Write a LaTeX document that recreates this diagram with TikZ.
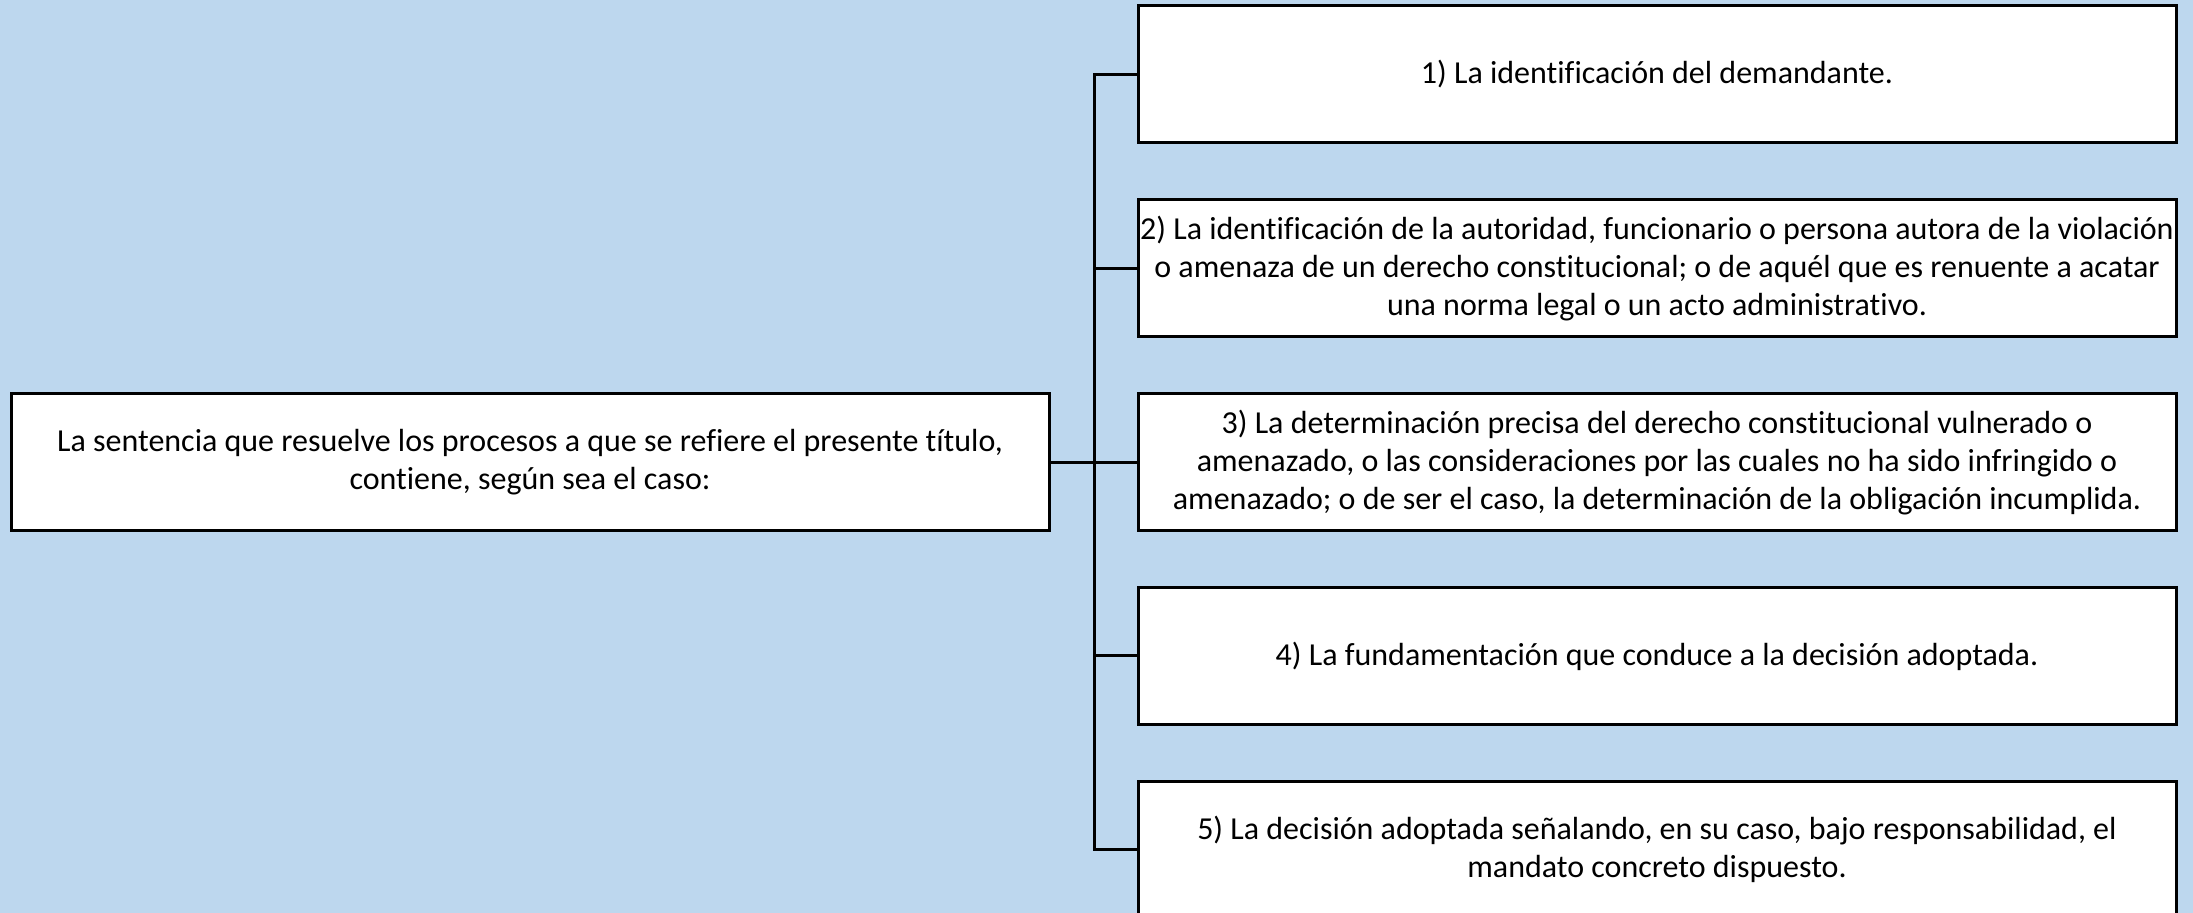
\documentclass[tikz,border=0pt]{standalone}
\usepackage{fontspec}
\setmainfont{Carlito}[Ligatures=NoCommon]
\usetikzlibrary{positioning}
\definecolor{bgblue}{HTML}{BDD7EE}
\tikzstyle{itembox} = [draw=black, fill=white, line width=1.5pt, outer sep=0pt,
    rectangle, minimum width=519pt, minimum height=68.5pt, inner sep=1pt,
    align=center, font=\fontsize{16}{19}\selectfont]
\tikzstyle{branch} = [draw=black, line width=1.5pt]

\begin{document}
\begin{tikzpicture}[x=0.5pt, y=-0.5pt, node distance=28.4pt]
                \fill[bgblue] (0,0) rectangle (2193,913);
                \useasboundingbox (0,0) rectangle (2193,913);
                \node [itembox] (box1) at (1657,74.5) {1) La identificación del demandante.};
                \node [itembox, below=of box1] (box2) {2) La identificación de la autoridad, funcionario o persona autora de la violación\\ o amenaza de un derecho constitucional; o de aquél que es renuente a acatar\\ una norma legal o un acto administrativo.};
                \node [itembox, below=of box2] (box3) {3) La determinación precisa del derecho constitucional vulnerado o\\ amenazado, o las consideraciones por las cuales no ha sido infringido o\\ amenazado; o de ser el caso, la determinación de la obligación incumplida.};
                \node [itembox, below=of box3] (box4) {4) La fundamentación que conduce a la decisión adoptada.};
                \node [itembox, below=of box4] (box5) {5) La decisión adoptada señalando, en su caso, bajo responsabilidad, el\\ mandato concreto dispuesto.};
                \node [itembox] (title) at (530,0 |- box3) {La sentencia que resuelve los procesos a que se refiere el presente título,\\ contiene, según sea el caso:};
                \coordinate (trunk) at (1094,0 |- box3);
                \draw [branch] (box1.west) -| (trunk) |- (box5.west);
                \draw [branch] (title.east) -- (box3.west);
                \draw [branch] (box2.west) -- (box2.west -| trunk);
                \draw [branch] (box4.west) -- (box4.west -| trunk);
            \end{tikzpicture}
\end{document}
